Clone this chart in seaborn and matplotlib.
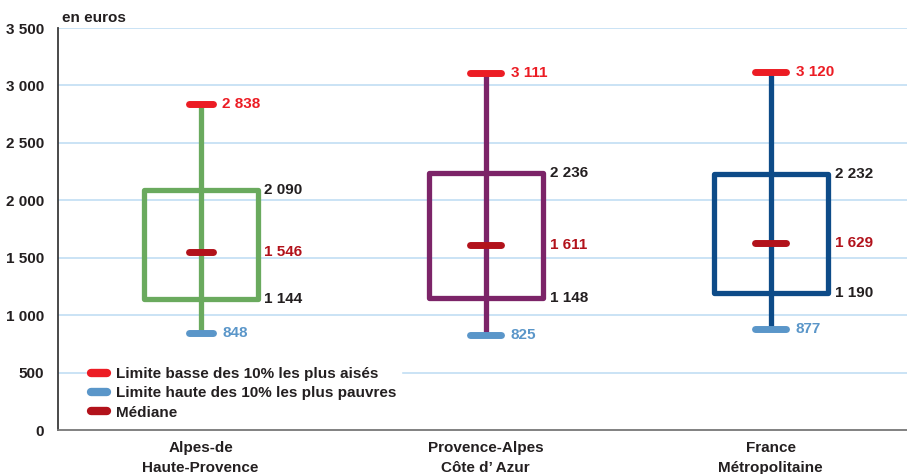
"""
Revenus disponibles par UC : déciles et quartiles
"""
import matplotlib
matplotlib.use('Agg')
import matplotlib.pyplot as plt
from matplotlib.lines import Line2D
from matplotlib.patches import Rectangle
from matplotlib.ticker import FuncFormatter
import seaborn as sns

regions = ["Alpes-de\nHaute-Provence", "Provence-Alpes\nCôte d’ Azur", "France\nMétropolitaine"]
d1 = [848, 825, 877]
q1 = [1144, 1148, 1190]
median = [1546, 1611, 1629]
q3 = [2090, 2236, 2232]
d9 = [2838, 3111, 3120]
box_colors = ['#6aaa5e', '#7c2468', '#0d4b88']

red = '#ec1c24'
blue = '#5a96c9'
darkred = '#b2121b'
ink = '#231f20'

sns.set_theme(style='white')
plt.rcParams['font.family'] = ['Liberation Sans', 'DejaVu Sans']
plt.rcParams['font.weight'] = 'bold'

fig = plt.figure(figsize=(9.07, 4.74), dpi=100)
ax = fig.add_axes([0.064, 0.0928, 0.936, 0.848])


def fmt(v):
    return f'{int(v):,}'.replace(',', ' ')


box_half = 0.2
cap_half = [0.042, 0.054, 0.054]
for i in range(len(regions)):
    c = box_colors[i]
    # whisker runs through the box
    ax.vlines(i, d1[i], d9[i], color=c, lw=3.8, zorder=3)
    ax.add_patch(Rectangle((i - box_half, q1[i]), 2 * box_half, q3[i] - q1[i],
                           fill=False, edgecolor=c, lw=3.8, joinstyle='round', zorder=3))
    for val, col in [(d9[i], red), (d1[i], blue), (median[i], darkred)]:
        ax.hlines(val, i - cap_half[i], i + cap_half[i], color=col, lw=5,
                  capstyle='round', zorder=4)
    off = cap_half[i] + 0.034
    ax.text(i + off, d9[i], fmt(d9[i]), color=red, fontsize=11, va='center', ha='left')
    ax.text(i + off, d1[i], fmt(d1[i]), color=blue, fontsize=11, va='center', ha='left')
    bx = i + box_half + 0.024
    ax.text(bx, q3[i], fmt(q3[i]), color=ink, fontsize=11, va='center', ha='left')
    ax.text(bx, q1[i], fmt(q1[i]), color=ink, fontsize=11, va='center', ha='left')
    ax.text(bx, median[i], fmt(median[i]), color=darkred, fontsize=11,
            va='center', ha='left')

ax.set_xlim(-0.5, 2.478)
ax.set_ylim(0, 3500)
ax.set_yticks(range(0, 3501, 500))
ax.yaxis.set_major_formatter(FuncFormatter(lambda v, p: fmt(v)))
ax.set_xticks(range(len(regions)))
ax.set_xticklabels(regions, fontsize=11, color=ink, linespacing=1.5)
ax.tick_params(axis='y', labelsize=11, labelcolor=ink, length=0, pad=10)
ax.tick_params(axis='x', length=0, pad=8)

for y in range(500, 3501, 500):
    ax.axhline(y, color='#c6e1f5', lw=1.3, zorder=1)

for s in ['top', 'right']:
    ax.spines[s].set_visible(False)
ax.spines['left'].set_color('#3a3a3a')
ax.spines['left'].set_linewidth(1.3)
ax.spines['bottom'].set_color('#777777')
ax.spines['bottom'].set_linewidth(1.3)

fig.text(0.068, 0.9536, 'en euros', fontsize=11, color=ink, ha='left', va='baseline')

handles = [Line2D([], [], color=red, lw=6, solid_capstyle='round'),
           Line2D([], [], color=blue, lw=6, solid_capstyle='round'),
           Line2D([], [], color=darkred, lw=6, solid_capstyle='round')]
labels = ['Limite basse des 10% les plus aisés',
          'Limite haute des 10% les plus pauvres',
          'Médiane']
leg = ax.legend(handles, labels, loc='upper left', bbox_to_anchor=(0.0248, 0.187),
                fontsize=11, frameon=True, facecolor='white', edgecolor='white',
                framealpha=1, handlelength=1.0, handletextpad=0.6, labelspacing=0.35,
                borderpad=0.3, fancybox=False)
for t in leg.get_texts():
    t.set_color(ink)
leg.set_zorder(5)

fig.savefig('out.png', dpi=100)
plt.close(fig)
